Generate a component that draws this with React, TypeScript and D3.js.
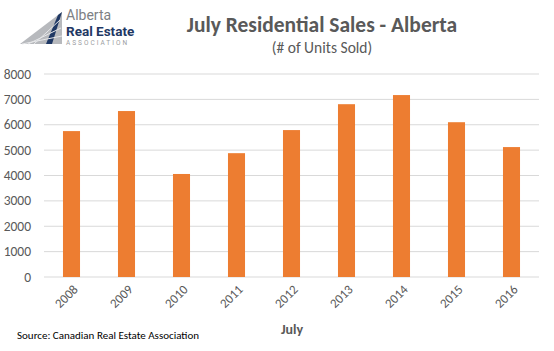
import React, { useEffect, useRef } from 'react';
import * as d3 from 'd3';

const years = ['2008', '2009', '2010', '2011', '2012', '2013', '2014', '2015', '2016'];
const unitsSold = [5750, 6540, 4060, 4880, 5790, 6810, 7170, 6100, 5120];
const yTicks = [0, 1000, 2000, 3000, 4000, 5000, 6000, 7000, 8000];

const W = 554;
const H = 351;

const App = () => {
  const ref = useRef<SVGSVGElement>(null);

  useEffect(() => {
    const svg = d3.select(ref.current);
    svg.selectAll('*').remove();

    const left = 44, right = 539, top = 74, bottom = 277;
    const font = 'Calibri, Carlito, "Open Sans", sans-serif';

    const x = d3.scaleBand().domain(years).range([left, right]).paddingInner(0.69).paddingOuter(0.345);
    const y = d3.scaleLinear().domain([0, 8000]).range([bottom, top]);

    // gridlines
    svg.append('g')
      .selectAll('line')
      .data(yTicks)
      .enter().append('line')
      .attr('x1', left)
      .attr('x2', right)
      .attr('y1', d => y(d))
      .attr('y2', d => y(d))
      .style('stroke', '#d9d9d9')
      .style('stroke-width', 1);

    // y labels
    svg.append('g')
      .selectAll('text')
      .data(yTicks)
      .enter().append('text')
      .attr('x', 31)
      .attr('y', d => y(d) + 4.5)
      .attr('text-anchor', 'end')
      .style('font-family', font)
      .style('font-size', '13.5px')
      .style('fill', '#595959')
      .text(d => d);

    // bars
    svg.append('g')
      .selectAll('rect')
      .data(unitsSold)
      .enter().append('rect')
      .attr('x', (d, i) => x(years[i])!)
      .attr('width', x.bandwidth())
      .attr('y', d => y(d))
      .attr('height', d => bottom - y(d))
      .style('fill', '#ed7d31');

    // x labels, rotated
    svg.append('g')
      .selectAll('text')
      .data(years)
      .enter().append('text')
      .attr('transform', d => `translate(${x(d)! + x.bandwidth() / 2 + 4},${bottom + 10}) rotate(-45)`)
      .attr('text-anchor', 'end')
      .attr('dy', '0.35em')
      .style('font-family', font)
      .style('font-size', '13px')
      .style('fill', '#595959')
      .text(d => d);

    // titles
    svg.append('text')
      .attr('x', 322)
      .attr('y', 32)
      .attr('text-anchor', 'middle')
      .style('font-family', font)
      .style('font-size', '21.5px')
      .style('font-weight', 'bold')
      .style('fill', '#595959')
      .text('July Residential Sales - Alberta');

    svg.append('text')
      .attr('x', 322)
      .attr('y', 53)
      .attr('text-anchor', 'middle')
      .style('font-family', font)
      .style('font-size', '15.5px')
      .style('fill', '#595959')
      .text('(# of Units Sold)');

    svg.append('text')
      .attr('x', 292)
      .attr('y', 334)
      .attr('text-anchor', 'middle')
      .style('font-family', font)
      .style('font-size', '14px')
      .style('font-weight', 'bold')
      .style('fill', '#595959')
      .text('July');

    svg.append('text')
      .attr('x', 17)
      .attr('y', 339)
      .style('font-family', font)
      .style('font-size', '11px')
      .style('fill', '#000')
      .text('Source: Canadian Real Estate Association');

    // logo
    const logo = svg.append('g');
    logo.append('path')
      .attr('d', 'M20,44 L62,12 L62,44 Z')
      .style('fill', '#b7b9bd');
    logo.append('path')
      .attr('d', 'M46,44 L58,15 L62,12 L52,44 Z')
      .style('fill', '#1f3864');
    logo.append('path')
      .attr('d', 'M34,44 L60,20 M28,44 L61,28 M22,44 L62,36')
      .style('stroke', '#e6e7e9')
      .style('stroke-width', 1);
    logo.append('text')
      .attr('x', 66)
      .attr('y', 20)
      .style('font-family', 'Roboto, sans-serif')
      .style('font-size', '14px')
      .style('fill', '#7d7f84')
      .text('Alberta');
    logo.append('text')
      .attr('x', 66)
      .attr('y', 36)
      .style('font-family', 'Roboto, sans-serif')
      .style('font-size', '13.5px')
      .style('font-weight', 'bold')
      .style('fill', '#1f3864')
      .text('Real Estate');
    logo.append('text')
      .attr('x', 66)
      .attr('y', 45)
      .style('font-family', 'Roboto, sans-serif')
      .style('font-size', '6.5px')
      .style('letter-spacing', '2px')
      .style('fill', '#9a9ca0')
      .text('ASSOCIATION');
  }, []);

  return (
    <svg
      ref={ref}
      width={W}
      height={H}
      style={{ position: 'absolute', left: 0, top: 0, background: '#fff' }}
    />
  );
};

export default App;
